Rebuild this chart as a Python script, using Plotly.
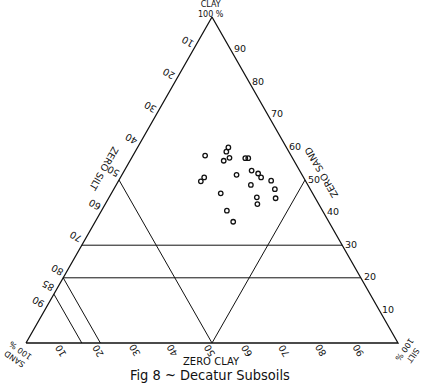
import plotly.graph_objects as go

# Soil samples: percentages of clay, silt and sand
clay = [57.5, 60.0, 58.7, 56.8, 55.9, 56.7, 56.7, 51.6, 50.8, 49.6, 52.9,
        52.0, 50.8, 48.5, 49.8, 47.2, 44.7, 44.4, 42.6, 45.9, 40.6, 37.2]
silt = [19.4, 24.4, 24.5, 26.3, 25.2, 30.6, 31.4, 30.8, 22.5, 22.2, 34.2,
        36.4, 37.8, 36.2, 41.0, 43.3, 39.7, 44.9, 40.9, 29.4, 33.7, 37.1]
sand = [round(100 - c - s, 1) for c, s in zip(clay, silt)]

# Guide lines (constant percentage of one component)
sand_guides = [50, 80, 85]
silt_guides = [50]
clay_guides = [20, 30]

# Scale tick labels along each side
sand_ticks = [10, 20, 30, 40, 50, 60, 70, 80, 85, 90]   # left side
silt_ticks = [10, 20, 30, 40, 50, 60, 70, 80, 90]       # base
clay_ticks = [10, 20, 30, 40, 50, 60, 70, 80, 90]       # right side

INK = "#111111"
FONT = "DejaVu Sans"


def to_xy(c, s):
    """Ternary (clay, silt) percentages -> plane coordinates."""
    return s / 100 + c / 200, c / 100


def segment(c0, s0, c1, s1):
    x0, y0 = to_xy(c0, s0)
    x1, y1 = to_xy(c1, s1)
    return [x0, x1, None], [y0, y1, None]


fig = go.Figure()

# Triangle outline: sand 100 -> silt 100 -> clay 100
tx, ty = [], []
for c, s in [(0, 0), (0, 100), (100, 0), (0, 0)]:
    x, y = to_xy(c, s)
    tx.append(x)
    ty.append(y)
fig.add_trace(go.Scatter(x=tx, y=ty, mode="lines",
                         line=dict(color=INK, width=1.3), hoverinfo="skip"))

gx, gy = [], []
for v in sand_guides:            # from left side (silt 0) to base (clay 0)
    a, b = segment(100 - v, 0, 0, 100 - v)
    gx += a
    gy += b
for v in silt_guides:            # from base (clay 0) to right side (sand 0)
    a, b = segment(0, v, 100 - v, v)
    gx += a
    gy += b
for v in clay_guides:            # horizontal, left side to right side
    a, b = segment(v, 0, v, 100 - v)
    gx += a
    gy += b
fig.add_trace(go.Scatter(x=gx, y=gy, mode="lines",
                         line=dict(color=INK, width=1.0), hoverinfo="skip"))

# Samples
px_, py_ = zip(*[to_xy(c, s) for c, s in zip(clay, silt)])
fig.add_trace(go.Scatter(
    x=list(px_), y=list(py_), mode="markers",
    marker=dict(symbol="circle-open", size=4.5, color=INK,
                line=dict(width=1.3, color=INK)),
    customdata=list(zip(clay, silt, sand)),
    hovertemplate="Clay %{customdata[0]}%<br>Silt %{customdata[1]}%"
                  "<br>Sand %{customdata[2]}%<extra></extra>"))

ann = []


def label(text, c, s, dx, dy, angle=0, size=9):
    x, y = to_xy(c, s)
    ann.append(dict(x=x, y=y, xref="x", yref="y", text=text, showarrow=False,
                    xanchor="center", yanchor="middle",
                    xshift=dx, yshift=dy, textangle=angle,
                    font=dict(family=FONT, size=size, color=INK)))


for v in sand_ticks:
    label(str(v), 100 - v, 0, -6, 8, angle=210, size=9.5)
for v in silt_ticks:
    label(str(v), 0, v, -3, -8, angle=240, size=9.5)
for v in clay_ticks:
    label(str(v), v, 100 - v, 9, 1, size=9.5)

# Side titles
label("ZERO SILT", 53, 0, -20, 2, angle=120, size=9.5)
label("ZERO SAND", 52, 48, 20, 1, angle=240, size=9.5)

# Corner titles
label("CLAY<br>100 %", 100, 0, -1, 8, size=8)
label("SAND<br>100 %", 0, 0, -9, -12, angle=215, size=8)
label("SILT<br>100 %", 0, 100, 11, -10, angle=125, size=8)


def caption(text, px, py, family, size):
    ann.append(dict(x=px / 423, y=1 - py / 390, xref="paper", yref="paper",
                    xanchor="center", yanchor="middle", text=text,
                    showarrow=False,
                    font=dict(family=family, size=size, color=INK)))


# Base title and figure caption
caption("ZERO CLAY", 211.5, 361, FONT, 10)
caption("Fig 8 ~ Decatur Subsoils", 210, 374.5,
        "Liberation Sans Narrow, DejaVu Sans Condensed, sans-serif", 14.5)

fig.update_layout(
    width=423, height=390,
    margin=dict(l=0, r=0, t=0, b=0),
    paper_bgcolor="white", plot_bgcolor="white",
    showlegend=False,
    annotations=ann,
    xaxis=dict(range=[-26 / 372, 397 / 372], visible=False, fixedrange=True),
    yaxis=dict(range=[-47 / 326, 343 / 326], visible=False, fixedrange=True),
)

fig.write_html("out.html")
